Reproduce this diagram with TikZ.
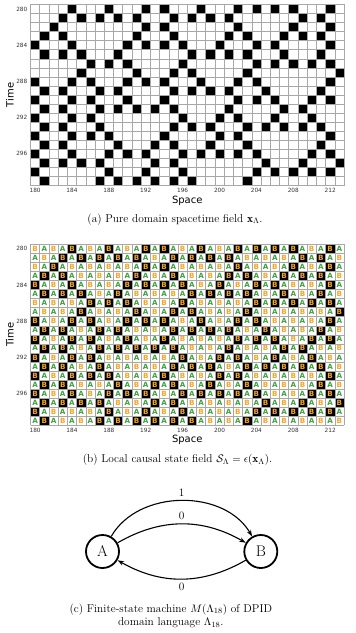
\documentclass[tikz,border=0pt]{standalone}
\usepackage{fontspec}
\newfontfamily\dejavu{DejaVu Sans}
\usetikzlibrary{arrows.meta}
\definecolor{lettergreen}{HTML}{40A040}
\definecolor{letterorange}{HTML}{F5A623}
\definecolor{gridgray}{HTML}{A8A8A8}
\def\blackcells{0/{4,8,12,14,18,22,24,26,28,32},
1/{3,5,7,9,11,15,17,19,21,29,31},
2/{2,12,14,22,28,32},
3/{1,3,11,15,21,23,27,29,31},
4/{0,4,10,12,14,16,20,24,26,32},
5/{1,3,5,9,17,19,21,23,27,31},
6/{6,8,10,16,24,26,28,30,32},
7/{5,11,15,17,23,33},
8/{0,4,6,10,12,14,18,22,24,32},
9/{1,3,7,9,15,17,19,21,25,31},
10/{0,4,6,10,14,22,24,26,30,32},
11/{1,3,7,9,11,13,15,21,27,29},
12/{0,4,6,16,20,22,26,30},
13/{1,3,7,15,17,19,23,25,27,29,31},
14/{0,4,6,8,14,20,22,32},
15/{1,3,9,13,15,19,23,31},
16/{0,4,8,10,12,16,18,20,22,24,30,32},
17/{1,3,5,7,13,15,25,29,33},
18/{0,8,12,16,24,26,28,30,32},
19/{1,7,9,11,13,15,17,23}}
\tikzset{
  gridline/.style={draw=gridgray, line width=0.5bp},
  ticklab/.style={font=\dejavu\fontsize{5.8}{6}\selectfont, inner sep=0pt, text=black!80},
  axlab/.style={font=\dejavu\fontsize{10}{11}\selectfont, inner sep=0pt},
  capt/.style={font=\fontsize{11.4}{13.7}\selectfont, inner sep=0pt, align=center},
  letA/.style={font=\dejavu\bfseries\fontsize{7.2}{8}\selectfont, text=lettergreen, inner sep=0pt},
  letB/.style={font=\dejavu\bfseries\fontsize{7.2}{8}\selectfont, text=letterorange, inner sep=0pt},
  fsmstate/.style={circle, draw, line width=1.8bp, minimum size=33bp, inner sep=0pt, font=\fontsize{15.5}{16}\selectfont},
  trans/.style={-{Stealth[length=6.5bp,width=4.5bp]}, line width=1.1bp},
  translab/.style={font=\fontsize{11.4}{12}\selectfont}
}
\begin{document}
\begin{tikzpicture}[x=1bp,y=-1bp]
\useasboundingbox (0,0) rectangle (355,633);
\def\cw{9.2206}\def\ch{9.05}\def\gx{30.5}
\def\gya{4.5}\def\gyb{244.3}
% ---------- panel (a) ----------
\foreach \r/\cl in \blackcells {\foreach \c in \cl {
  \expandafter\gdef\csname blk-\r-\c\endcsname{}
  \fill[black] (\gx+\c*\cw, \gya+\r*\ch) rectangle ++(\cw,\ch);}}
\foreach \i in {0,...,34} \draw[gridline] (\gx+\i*\cw, \gya) -- ++(0,20*\ch);
\foreach \j in {0,...,20} \draw[gridline] (\gx, \gya+\j*\ch) -- ++(34*\cw,0);
\foreach \k [evaluate=\k as \lab using int(180+4*\k)] in {0,...,8}
  \node[ticklab] (ax\k) at (\gx+4*\k*\cw+0.5*\cw, 190.7) {\lab};
\foreach \k [evaluate=\k as \lab using int(280+4*\k)] in {0,...,4}
  \node[ticklab, anchor=east] (ay\k) at (27.5, \gya+4*\k*\ch+0.5*\ch) {\lab};
\node[axlab, rotate=90] (timea) at (10, 95) {Time};
\node[axlab] (spacea) at (187.25, 200.5) {Space};
\node[capt] (capa) at (175, 219.3) {(a) Pure domain spacetime field $\mathbf{x}_\Lambda$.};
% ---------- panel (b) ----------
\foreach \r in {0,...,19} \foreach \c in {0,...,33} {
  \pgfmathtruncatemacro\cellpar{mod(\r+\c,2)}
  \ifcsname blk-\r-\c\endcsname
    \fill[black] (\gx+\c*\cw, \gyb+\r*\ch) rectangle ++(\cw,\ch);
    \node[letB] (b-\r-\c) at (\gx+\c*\cw+0.5*\cw, \gyb+\r*\ch+0.5*\ch) {B};
  \else
    \ifnum\cellpar=0
      \node[letB] (b-\r-\c) at (\gx+\c*\cw+0.5*\cw, \gyb+\r*\ch+0.5*\ch) {B};
    \else
      \node[letA] (b-\r-\c) at (\gx+\c*\cw+0.5*\cw, \gyb+\r*\ch+0.5*\ch) {A};
    \fi
  \fi}
\foreach \i in {0,...,34} \draw[gridline] (\gx+\i*\cw, \gyb) -- ++(0,20*\ch);
\foreach \j in {0,...,20} \draw[gridline] (\gx, \gyb+\j*\ch) -- ++(34*\cw,0);
\foreach \k [evaluate=\k as \lab using int(180+4*\k)] in {0,...,8}
  \node[ticklab] (bx\k) at (\gx+4*\k*\cw+0.5*\cw, 430.5) {\lab};
\foreach \k [evaluate=\k as \lab using int(280+4*\k)] in {0,...,4}
  \node[ticklab, anchor=east] (by\k) at (27.5, \gyb+4*\k*\ch+0.5*\ch) {\lab};
\node[axlab, rotate=90] (timeb) at (10, 334.8) {Time};
\node[axlab] (spaceb) at (187.25, 440.3) {Space};
\node[capt] (capb) at (177.5, 460) {(b) Local causal state field $\mathcal{S}_\Lambda = \epsilon(\mathbf{x}_\Lambda)$.};
% ---------- panel (c) ----------
\node[fsmstate] (A) at (102.5, 551.5) {A};
\node[fsmstate] (B) at (260.8, 551.5) {B};
\draw[trans] (A) to[bend left=60] node[translab, above] (l1) {1} (B);
\draw[trans] (A) to[bend left=30] node[translab, above] (l2) {0} (B);
\draw[trans] (B) to[bend left=30] node[translab, below] (l3) {0} (A);
\node[capt] (capc) at (170.8, 615.9) {(c) Finite-state machine $M(\Lambda_{18})$ of DPID\\domain language $\Lambda_{18}$.};
\end{tikzpicture}
\end{document}
